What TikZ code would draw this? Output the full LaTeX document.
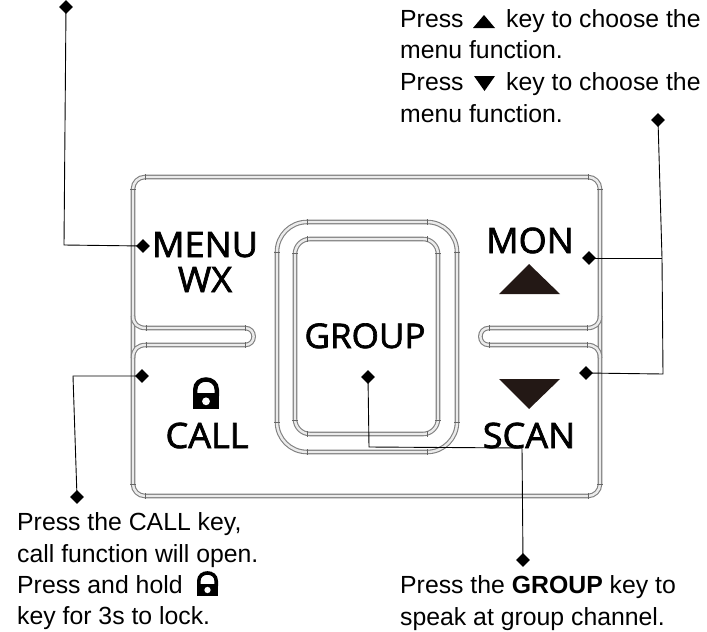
\documentclass[tikz,border=0pt]{standalone}
\usepackage{fontspec}
\usetikzlibrary{shapes.geometric}
\setmainfont{Liberation Sans}
\newfontfamily\keyfont[FakeBold=2,FakeStretch=1.03]{Open Sans}
\tikzset{
  x=1pt,y=-1pt,
  body/.style={draw=black!50,double=white!92!black,line width=1.1pt,double distance=2.4pt},
  jointmark/.style={draw=black!60,line width=0.6pt},
  lead/.style={draw=black,line width=0.9pt},
  tip/.style={diamond,fill=black,inner sep=0pt,minimum size=14pt},
  keylabel/.style={font=\keyfont\fontsize{35}{37}\selectfont,inner sep=0pt,anchor=base,text=black},
  note/.style={font=\fontsize{24.8}{30}\selectfont,inner sep=0pt,anchor=base west},
}
\definecolor{keytri}{HTML}{231815}
\newcommand{\lockicon}[4]{%
  \fill[black] (#1,#2+0.5*#4) rectangle (#1+#3,#2+#4);
  \draw[black,line width=0.17*#3]
    (#1+0.085*#3,#2+0.6*#4) -- (#1+0.085*#3,#2+0.4*#4)
    .. controls (#1+0.085*#3,#2-0.03*#4) and (#1+0.915*#3,#2-0.03*#4) ..
    (#1+0.915*#3,#2+0.4*#4) -- (#1+0.915*#3,#2+0.6*#4);
  \fill[white] (#1+0.5*#3,#2+0.76*#4) circle[radius=0.15*#3];
}
\begin{document}
\begin{tikzpicture}
\useasboundingbox[fill=white] (0,0) rectangle (707,632);
% housing
\draw[body,rounded corners=12pt] (133,177) rectangle (600,496);
\draw[body] (133,316) .. controls (133,324) and (138,328) .. (146,328) -- (245,328)
  .. controls (256.5,328) and (256.5,345) .. (245,345) -- (146,345)
  .. controls (138,345) and (133,349) .. (133,358);
\draw[body] (600,316) .. controls (600,324) and (595,328) .. (587,328) -- (489,328)
  .. controls (477.5,328) and (477.5,345) .. (489,345) -- (587,345)
  .. controls (595,345) and (600,349) .. (600,358);
% group key
\draw[body,rounded corners=30pt] (277,222) rectangle (457,452);
\draw[body,rounded corners=15pt] (295,239) rectangle (438,434);
% joints where the outline's arcs meet its straight runs
\foreach \jx/\jy in {145/177,588/177,145/496,588/496,146/328,146/345,245/328,245/345,489/328,489/345,587/328,587/345,307/222,427/222,307/452,427/452,307/239,427/239,307/434,427/434}
  \draw[jointmark] (\jx,\jy-3) -- (\jx,\jy+3);
\foreach \jx/\jy in {133/189,600/189,133/484,600/484,277/252,457/252,277/422,457/422,295/253,438/253,295/420,438/420}
  \draw[jointmark] (\jx-3,\jy) -- (\jx+3,\jy);
% key legends
\node[keylabel] (menu) at (205,257) {MENU};
\node[keylabel] (wx) at (205,292) {WX};
\node[keylabel,font=\keyfont\fontsize{34}{36}\selectfont] (group) at (365,348) {GROUP};
\node[keylabel] (mon) at (530,253) {MON};
\node[keylabel] (call) at (207,448) {CALL};
\node[keylabel] (scan) at (529,448) {SCAN};
\fill[keytri] (529,264) -- (560,294) -- (499,294) -- cycle;
\fill[keytri] (529,409) -- (560,379) -- (499,379) -- cycle;
\lockicon{193}{377}{26}{32}
% notes
\node[note] (up1a) at (400,27) {Press};
\fill[black] (484,15) -- (495,28) -- (473,28) -- cycle;
\node[note] (up1b) at (506,27) {key to choose the};
\node[note] (up2) at (400,58) {menu function.};
\node[note] (dn1a) at (400,90) {Press};
\fill[black] (484.5,91) -- (495,76) -- (474,76) -- cycle;
\node[note] (dn1b) at (506,90) {key to choose the};
\node[note] (dn2) at (400,122) {menu function.};
\node[note] (c1) at (17,530) {Press the CALL key,};
\node[note] (c2) at (17,562) {call function will open.};
\node[note] (c3) at (17,593) {Press and hold};
\lockicon{197}{571}{21}{25}
\node[note] (c4) at (17,624) {key for 3s to lock.};
\node[note] (g1) at (400,593) {Press the \textbf{GROUP} key to};
\node[note] (g2) at (400,625) {speak at group channel.};
% leaders
\node[tip] (tmenufar) at (66,7) {};
\node[tip] (tmenu) at (143,246) {};
\node[tip] (tupfar) at (658,120) {};
\node[tip] (tmon) at (589,258) {};
\node[tip] (tscan) at (586,373) {};
\node[tip] (tcall) at (142,376) {};
\node[tip] (tcallfar) at (77,497) {};
\node[tip] (tgroup) at (368,377) {};
\node[tip] (tgroupfar) at (523,560) {};
\coordinate (kmenu) at (64,245);
\coordinate (kmon) at (662,258);
\coordinate (kscan) at (663,374);
\coordinate (kcall) at (73,376);
\coordinate (kgroupa) at (369,447);
\coordinate (kgroupb) at (522,448);
\draw[lead] (tmenufar.center) -- (kmenu) -- (tmenu.center);
\draw[lead] (tupfar.center) -- (kmon) -- (kscan) -- (tscan.center);
\draw[lead] (tmon.center) -- (kmon);
\draw[lead] (tcall.center) -- (kcall) -- (tcallfar.center);
\draw[lead] (tgroup.center) -- (kgroupa) -- (kgroupb) -- (tgroupfar.center);
\end{tikzpicture}
\end{document}
